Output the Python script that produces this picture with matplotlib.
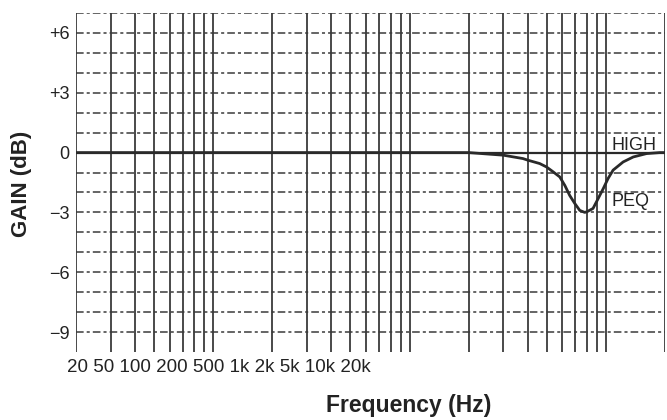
import numpy as np
import matplotlib
matplotlib.use('Agg')
import matplotlib.pyplot as plt

plt.rcParams['font.family'] = ['Liberation Sans', 'DejaVu Sans']

# response of the HIGH band PEQ
freq = [10, 100, 1000, 1280, 1500, 1890, 2000, 2300, 2490, 2680, 2910, 3090, 3270,
        3470, 3680, 3900, 4000, 4300, 4570, 4850, 5130, 5440, 6120, 6890, 8050, 9400, 10000]
gain = [0, 0, 0, -0.08, -0.13, -0.3, -0.38, -0.55, -0.72, -0.95, -1.22, -1.65, -2.15,
        -2.55, -2.9, -3.0, -2.97, -2.8, -2.3, -1.8, -1.3, -0.88, -0.47, -0.22, -0.05, 0, 0]

decades = [10, 100, 1000]
grid_mult = [1, 1.5, 2, 2.5, 3, 3.5, 4, 4.5, 5]
db_lines = list(range(-9, 8))
ytick_vals = [-9, -6, -3, 0, 3, 6]
ytick_labels = ['\u22129', '\u22126', '\u22123', '0', '+3', '+6']
freq_labels = ['20', '50', '100', '200', '500', '1k', '2k', '5k', '10k', '20k']

fig = plt.figure(figsize=(6.67, 4.2), dpi=100)
ax = fig.add_axes([0.114, 0.162, 0.883, 0.807])
ax.set_xscale('log')
ax.set_xlim(10, 10000)
ax.set_ylim(-10, 7)

gc = '#3a3a3a'
vx = [d * m for d in decades for m in grid_mult] + [10000]
ax.vlines(vx, -10, 7, color=gc, lw=1.3, zorder=2)
for v in db_lines:
    if v == 0:
        ax.axhline(v, color='#2a2a2a', lw=1.6, zorder=3)
    else:
        ax.axhline(v, color=gc, lw=1.1, dashes=(5, 2, 2, 2), zorder=1)

ax.plot(freq, gain, color='#2a2a2a', lw=2.0, zorder=4)

ax.text(5370, 0.12, 'HIGH', fontsize=13, color='#222222', va='baseline', ha='left')
ax.text(5370, -2.45, 'PEQ', fontsize=13, color='#222222', va='center', ha='left')

for s in ax.spines.values():
    s.set_visible(False)
ax.set_xticks([])
ax.set_xticks([], minor=True)
ax.set_yticks(ytick_vals)
ax.set_yticklabels(ytick_labels, fontsize=13, color='#222222')
ax.tick_params(axis='y', length=0, pad=4.5)

fig.text(0.0315, 0.562, 'GAIN (dB)', fontsize=16, fontweight='bold', color='#222222',
         rotation=90, va='center', ha='center')
fig.text(0.1005, 0.114, ' '.join(freq_labels), fontsize=13.5, color='#222222',
         va='baseline', ha='left')
fig.text(0.613, 0.019, 'Frequency (Hz)', fontsize=16.5, fontweight='bold', color='#222222',
         va='baseline', ha='center')

fig.savefig('out.png', dpi=100, facecolor='white')
